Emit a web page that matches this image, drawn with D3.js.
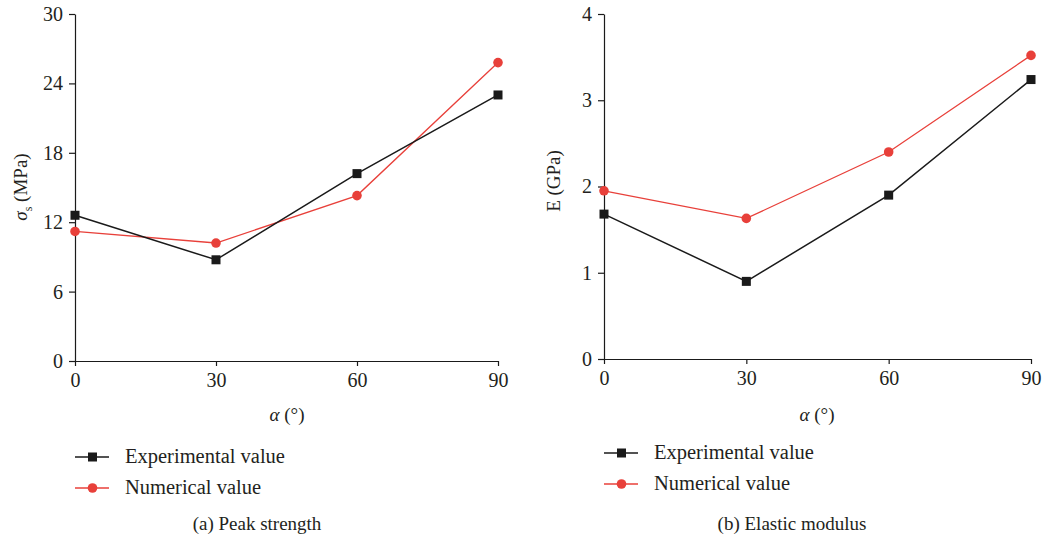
<!DOCTYPE html>
<html>
<head>
<meta charset="utf-8">
<script src="https://cdn.jsdelivr.net/npm/d3@7"></script>
<style>
  body { margin: 0; background: #fff; }
  svg text { font-family: "Liberation Serif", "DejaVu Serif", serif; fill: #231f20; }
</style>
</head>
<body>
<svg id="chart" width="1046" height="544"></svg>
<script>
var angles = [0, 30, 60, 90];

// (a) peak strength, MPa
var strengthExp = [12.6, 8.75, 16.2, 23.0];
var strengthNum = [11.2, 10.2, 14.3, 25.8];
var strengthTicks = [0, 6, 12, 18, 24, 30];

// (b) elastic modulus, GPa
var modulusExp = [1.68, 0.9, 1.9, 3.24];
var modulusNum = [1.95, 1.63, 2.4, 3.52];
var modulusTicks = [0, 1, 2, 3, 4];

var seriesNames = ["Experimental value", "Numerical value"];
var black = "#1a1a1a", red = "#e8403a";

var svg = d3.select("#chart");

var panel = function(opt) {
  var g = svg.append("g");

  var x = d3.scaleLinear().domain([0, 90]).range([opt.left, opt.right]);
  var y = d3.scaleLinear().domain([0, opt.ymax]).range([opt.bottom, 14]);

  var xAxis = g.append("g")
    .attr("transform", "translate(0," + opt.bottom + ")")
    .call(d3.axisBottom(x).tickValues(angles).tickFormat(d3.format("d"))
      .tickSize(5).tickPadding(7).tickSizeOuter(0));
  var yAxis = g.append("g")
    .attr("transform", "translate(" + opt.left + ",0)")
    .call(d3.axisLeft(y).tickValues(opt.ticks).tickFormat(d3.format("d"))
      .tickSize(6).tickPadding(6).tickSizeOuter(0));

  [xAxis, yAxis].forEach(function(a) {
    a.select(".domain").attr("stroke", black).attr("stroke-width", 1.2);
    a.selectAll(".tick line").attr("stroke", black).attr("stroke-width", 1.2);
    a.selectAll(".tick text")
      .style("font-family", "Liberation Serif, serif")
      .style("font-size", "20px")
      .attr("fill", "#231f20");
  });

  var line = d3.line()
    .x(function(d, i) { return x(angles[i]); })
    .y(function(d) { return y(d); });

  g.append("path").datum(opt.num)
    .attr("fill", "none").attr("stroke", red).attr("stroke-width", 1.3)
    .attr("d", line);
  g.append("path").datum(opt.exp)
    .attr("fill", "none").attr("stroke", black).attr("stroke-width", 1.5)
    .attr("d", line);

  g.selectAll(".sq").data(opt.exp).enter().append("rect")
    .attr("x", function(d, i) { return x(angles[i]) - 4.5; })
    .attr("y", function(d) { return y(d) - 4.5; })
    .attr("width", 9).attr("height", 9)
    .attr("fill", black);
  g.selectAll(".dot").data(opt.num).enter().append("circle")
    .attr("cx", function(d, i) { return x(angles[i]); })
    .attr("cy", function(d) { return y(d); })
    .attr("r", 4.8)
    .attr("fill", red);

  // axis titles
  var xt = g.append("text")
    .attr("x", opt.xTitleX).attr("y", 421)
    .attr("text-anchor", "middle")
    .style("font-size", "19px");
  xt.append("tspan").style("font-style", "italic").text("α");
  xt.append("tspan").text(" (°)");

  var yt = g.append("text")
    .attr("transform", "translate(" + opt.yTitleX + "," + opt.yTitleY + ") rotate(-90)")
    .attr("text-anchor", "middle")
    .style("font-size", "19px");
  if (opt.sigma) {
    yt.append("tspan").style("font-style", "italic").text("σ");
    yt.append("tspan").attr("dy", 5).style("font-size", "12px").text("s");
    yt.append("tspan").attr("dy", -5).text(" (MPa)");
  } else {
    yt.text("E (GPa)");
  }

  // legend
  var leg = g.append("g");
  [[opt.exp, black], [opt.num, red]].forEach(function(s, i) {
    var ly = opt.legendY + i * 31;
    leg.append("line")
      .attr("x1", opt.left).attr("x2", opt.left + 34)
      .attr("y1", ly).attr("y2", ly)
      .attr("stroke", s[1]).attr("stroke-width", i ? 1.3 : 1.5);
    if (i === 0) {
      leg.append("rect").attr("x", opt.left + 13).attr("y", ly - 4.5)
        .attr("width", 9).attr("height", 9).attr("fill", black);
    } else {
      leg.append("circle").attr("cx", opt.left + 17.5).attr("cy", ly)
        .attr("r", 4.8).attr("fill", red);
    }
    leg.append("text")
      .attr("x", opt.left + 50).attr("y", ly + 6)
      .style("font-size", "20.5px")
      .text(seriesNames[i]);
  });

  g.append("text")
    .attr("x", opt.captionX).attr("y", 530)
    .attr("text-anchor", "middle")
    .style("font-size", "19px")
    .text(opt.caption);
};

panel({
  left: 75, right: 498, bottom: 361, ymax: 30, ticks: strengthTicks,
  exp: strengthExp, num: strengthNum, sigma: true,
  xTitleX: 287, yTitleX: 27, yTitleY: 187,
  legendY: 457, captionX: 257, caption: "(a) Peak strength"
});

panel({
  left: 604, right: 1031, bottom: 359, ymax: 4, ticks: modulusTicks,
  exp: modulusExp, num: modulusNum, sigma: false,
  xTitleX: 817, yTitleX: 560, yTitleY: 181,
  legendY: 453, captionX: 792, caption: "(b) Elastic modulus"
});
</script>
</body>
</html>
